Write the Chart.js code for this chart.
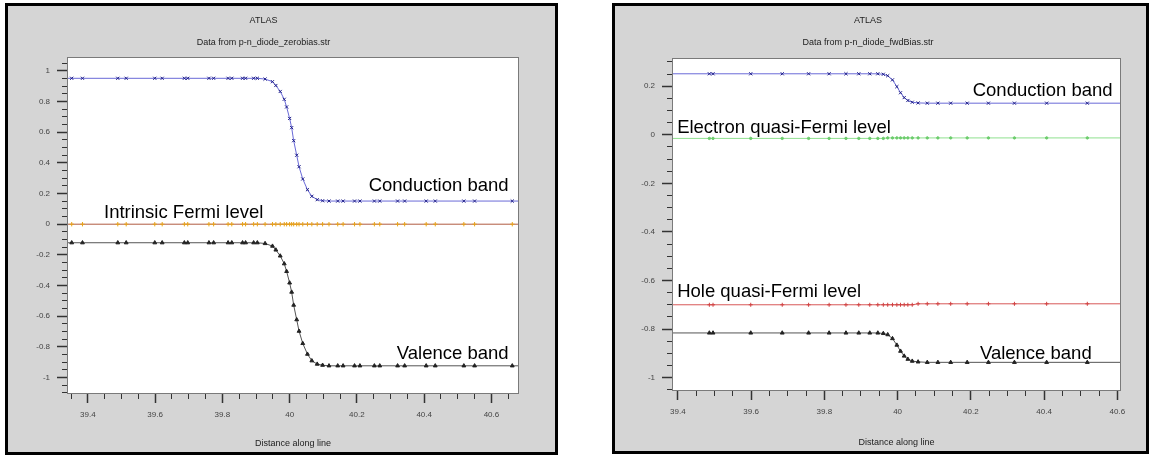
<!DOCTYPE html>
<html><head><meta charset="utf-8">
<script src="https://cdn.jsdelivr.net/npm/chart.js@4.4.0/dist/chart.umd.min.js"></script>
<style>
html,body{margin:0;padding:0;background:#fff;width:1151px;height:455px;overflow:hidden;}
.panel{position:absolute;background:#d5d5d5;border:3px solid #000;box-sizing:border-box;}
#p1{left:5px;top:3px;width:553px;height:452px;}
#p2{left:612px;top:3px;width:537px;height:451px;}
canvas{display:block;}
</style></head>
<body>
<div class="panel" id="p1"><canvas id="c1" width="547" height="446"></canvas></div>
<div class="panel" id="p2"><canvas id="c2" width="531" height="445"></canvas></div>
<script>
// ---------- data: zero bias ----------
const leftX = [39.30, 39.352, 39.384, 39.489, 39.514, 39.599, 39.621, 39.687, 39.697, 39.760, 39.774, 39.817, 39.828, 39.860, 39.869, 39.893, 39.904, 39.927, 39.949, 39.959, 39.972, 39.984, 39.991, 40.000, 40.006, 40.012, 40.021, 40.028, 40.039, 40.053, 40.066, 40.082, 40.098, 40.117, 40.143, 40.159, 40.193, 40.209, 40.252, 40.268, 40.321, 40.342, 40.406, 40.433, 40.518, 40.550, 40.662, 40.72];
const leftConduction = [0.952, 0.952, 0.952, 0.952, 0.952, 0.952, 0.952, 0.952, 0.952, 0.952, 0.952, 0.952, 0.952, 0.952, 0.952, 0.952, 0.952, 0.947, 0.930, 0.905, 0.866, 0.815, 0.765, 0.690, 0.630, 0.545, 0.450, 0.375, 0.295, 0.225, 0.182, 0.160, 0.153, 0.151, 0.151, 0.151, 0.151, 0.151, 0.151, 0.151, 0.151, 0.151, 0.151, 0.151, 0.151, 0.151, 0.151, 0.151];
const leftFermi = [0, 0, 0, 0, 0, 0, 0, 0, 0, 0, 0, 0, 0, 0, 0, 0, 0, 0, 0, 0, 0, 0, 0, 0, 0, 0, 0, 0, 0, 0, 0, 0, 0, 0, 0, 0, 0, 0, 0, 0, 0, 0, 0, 0, 0, 0, 0, 0];
const leftValence = [-0.121, -0.121, -0.121, -0.121, -0.121, -0.121, -0.121, -0.121, -0.121, -0.121, -0.121, -0.121, -0.121, -0.121, -0.121, -0.121, -0.121, -0.126, -0.143, -0.168, -0.207, -0.258, -0.308, -0.383, -0.443, -0.528, -0.623, -0.698, -0.778, -0.848, -0.891, -0.913, -0.920, -0.924, -0.924, -0.924, -0.924, -0.924, -0.924, -0.924, -0.924, -0.924, -0.924, -0.924, -0.924, -0.924, -0.924, -0.924];

// ---------- data: forward bias ----------
const rightX = [39.30, 39.486, 39.496, 39.599, 39.685, 39.757, 39.813, 39.859, 39.894, 39.924, 39.946, 39.961, 39.973, 39.986, 39.998, 40.008, 40.018, 40.028, 40.040, 40.056, 40.081, 40.110, 40.145, 40.190, 40.248, 40.319, 40.407, 40.518, 40.70];
const rightConduction = [0.251, 0.251, 0.251, 0.251, 0.251, 0.251, 0.251, 0.251, 0.251, 0.251, 0.251, 0.249, 0.243, 0.226, 0.198, 0.173, 0.153, 0.141, 0.134, 0.131, 0.130, 0.130, 0.130, 0.130, 0.130, 0.130, 0.130, 0.130, 0.130];
const rightElectron = [-0.015, -0.015, -0.015, -0.015, -0.015, -0.015, -0.015, -0.015, -0.015, -0.015, -0.015, -0.015, -0.013, -0.013, -0.013, -0.013, -0.013, -0.013, -0.013, -0.013, -0.013, -0.013, -0.013, -0.013, -0.013, -0.013, -0.013, -0.013, -0.013];
const rightHole = [-0.700, -0.700, -0.700, -0.700, -0.700, -0.700, -0.700, -0.700, -0.700, -0.700, -0.700, -0.700, -0.700, -0.700, -0.700, -0.700, -0.700, -0.700, -0.700, -0.696, -0.696, -0.696, -0.696, -0.696, -0.696, -0.696, -0.696, -0.696, -0.696];
const rightValence = [-0.816, -0.816, -0.816, -0.816, -0.816, -0.816, -0.816, -0.816, -0.816, -0.816, -0.816, -0.818, -0.823, -0.839, -0.866, -0.891, -0.911, -0.924, -0.932, -0.935, -0.937, -0.937, -0.937, -0.937, -0.937, -0.937, -0.937, -0.937, -0.937];

const xTickStep = 0.05, yTickStep = 0.05, majorStep = 0.2;

const FONT = '"Liberation Sans", Arial, sans-serif';
const isMajor = v => Math.abs(v / majorStep - Math.round(v / majorStep)) < 1e-6;
const fmt = v => isMajor(v) ? String(Math.round(v * 10) / 10) : '';
const pts = (xs, ys) => xs.map((x, i) => ({x: x, y: ys[i]}));

const frame = {
  id: 'frame',
  beforeDraw(chart) {
    const a = chart.chartArea, c = chart.ctx;
    c.save(); c.fillStyle = '#fff'; c.fillRect(a.left, a.top, a.right - a.left, a.bottom - a.top); c.restore();
  },
  afterDraw(chart) {
    const a = chart.chartArea, c = chart.ctx;
    c.save(); c.strokeStyle = '#7a7a7a'; c.lineWidth = 1;
    c.strokeRect(Math.round(a.left) + 0.5, Math.round(a.top) + 0.5, Math.round(a.right - a.left) - 1, Math.round(a.bottom - a.top) - 1);
    c.restore();
  }
};
const annot = {
  id: 'annot',
  afterDatasetsDraw(chart, args, opts) {
    const c = chart.ctx, x = chart.scales.x, y = chart.scales.y;
    c.save();
    c.font = '18.5px ' + FONT; c.fillStyle = '#000'; c.textBaseline = 'alphabetic';
    for (const a of opts.items) {
      c.textAlign = a.align;
      c.fillText(a.text, x.getPixelForValue(a.x), y.getPixelForValue(a.y));
    }
    c.restore();
  }
};

function series(label, xs, ys, line, mark, style, r) {
  return {
    label, data: pts(xs, ys), borderColor: line, borderWidth: 1, tension: 0,
    pointStyle: style, pointBorderColor: mark, pointBackgroundColor: mark, pointBorderWidth: 1,
    pointRadius: c => (c.dataIndex === 0 || c.dataIndex === xs.length - 1) ? 0 : r
  };
}

function makeChart(id, o) {
  const cv = document.getElementById(id);
  const W = cv.width, H = cv.height;
  new Chart(cv, {
    type: 'line',
    data: {datasets: o.datasets},
    plugins: [frame, annot],
    options: {
      responsive: false, animation: false, events: [],
      layout: {padding: {left: 0, right: W - o.area.right, top: 0, bottom: 0}},
      plugins: {
        legend: {display: false}, tooltip: {enabled: false},
        title: {display: true, text: 'ATLAS', color: '#222', font: {family: FONT, size: 9, weight: 'normal'}, padding: {top: 9.1, bottom: 11.7}},
        subtitle: {display: true, text: o.subtitle, color: '#222', font: {family: FONT, size: 9, weight: 'normal'}, padding: {top: 0, bottom: o.area.top - 42.4}},
        annot: {items: o.labels}
      },
      scales: {
        x: {
          type: 'linear', position: 'bottom', min: o.xMin, max: o.xMax,
          border: {display: false},
          grid: {drawOnChartArea: false, drawTicks: true, tickLength: 9, tickColor: '#333',
            tickWidth: c => (c.tick && isMajor(c.tick.value)) ? 1.5 : 1,
            tickBorderDash: c => (c.tick && isMajor(c.tick.value)) ? [] : [5, 100]},
          ticks: {stepSize: xTickStep, includeBounds: false, autoSkip: false, maxRotation: 0, minRotation: 0,
            padding: 7, color: '#444', font: {family: FONT, size: 8}, callback: fmt},
          title: {display: true, text: 'Distance along line', color: '#222', font: {family: FONT, size: 9}, padding: {top: 0, bottom: 3}},
          afterFit: s => { s.height = H - o.area.bottom; }
        },
        y: {
          type: 'linear', position: 'left', min: o.yMin, max: o.yMax,
          border: {display: false},
          grid: {drawOnChartArea: false, drawTicks: true, tickLength: 10, tickColor: '#333',
            tickWidth: c => (c.tick && isMajor(c.tick.value)) ? 1.5 : 1,
            tickBorderDash: c => (c.tick && isMajor(c.tick.value)) ? [] : [0, 5, 5, 100]},
          ticks: {stepSize: yTickStep, includeBounds: false, autoSkip: false, padding: 7, color: '#444',
            font: {family: FONT, size: 8}, callback: fmt},
          afterFit: s => { s.width = o.area.left; }
        }
      }
    }
  });
}

makeChart('c1', {
  subtitle: 'Data from p-n_diode_zerobias.str',
  xMin: 39.338, xMax: 40.682, yMin: -1.108, yMax: 1.091,
  area: {left: 59, top: 51, right: 511, bottom: 388},
  datasets: [
    series('Conduction band', leftX, leftConduction, '#6a6ad8', '#20208a', 'crossRot', 2.2),
    series('Intrinsic Fermi level', leftX, leftFermi, '#b05a40', '#e8a317', 'cross', 2.2),
    series('Valence band', leftX, leftValence, '#555555', '#222222', 'triangle', 2.2)
  ],
  labels: [
    {text: 'Conduction band', x: 40.651, y: 0.219, align: 'right'},
    {text: 'Intrinsic Fermi level', x: 39.448, y: 0.040, align: 'left'},
    {text: 'Valence band', x: 40.651, y: -0.882, align: 'right'}
  ]
});

makeChart('c2', {
  subtitle: 'Data from p-n_diode_fwdBias.str',
  xMin: 39.384, xMax: 40.61, yMin: -1.055, yMax: 0.316,
  area: {left: 57, top: 52, right: 506, bottom: 385},
  datasets: [
    series('Conduction band', rightX, rightConduction, '#6a6ad8', '#20208a', 'crossRot', 2.2),
    series('Electron quasi-Fermi level', rightX, rightElectron, '#8ee08e', '#6ccc6c', 'circle', 1.2),
    series('Hole quasi-Fermi level', rightX, rightHole, '#d85858', '#d04040', 'cross', 2),
    series('Valence band', rightX, rightValence, '#555555', '#222222', 'triangle', 2.2)
  ],
  labels: [
    {text: 'Conduction band', x: 40.587, y: 0.158, align: 'right'},
    {text: 'Electron quasi-Fermi level', x: 39.398, y: 0.008, align: 'left'},
    {text: 'Hole quasi-Fermi level', x: 39.398, y: -0.668, align: 'left'},
    {text: 'Valence band', x: 40.530, y: -0.922, align: 'right'}
  ]
});
</script>
</body></html>
